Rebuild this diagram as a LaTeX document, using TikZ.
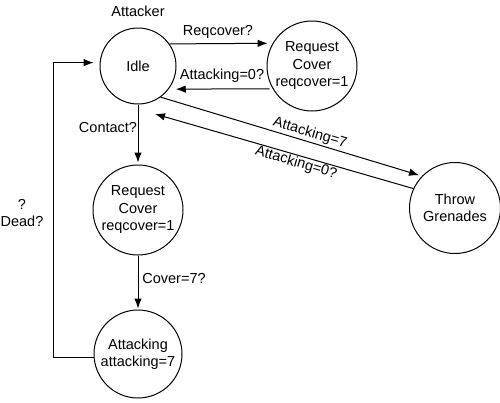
\documentclass[tikz,border=0pt]{standalone}
\usepackage{fontspec}
\setmainfont{Liberation Sans}
\usetikzlibrary{arrows.meta}
\begin{document}
\begin{tikzpicture}[x=1pt,y=-1pt,
  state/.style={circle,draw,line width=1pt,inner sep=0pt,align=center,font=\fontsize{14.5}{17.5}\selectfont},
  lbl/.style={font=\fontsize{14.5}{17.5}\selectfont,inner sep=1pt,align=center},
  conn/.style={line width=1pt,-{Latex[length=10pt,width=7.5pt]}}]
\useasboundingbox (0,0) rectangle (500,402);
\node[state,minimum size=76pt] (idle) at (138,66) {Idle};
\node[state,minimum size=90pt] (rc1) at (312,66) {Request\\Cover\\reqcover=1};
\node[state,minimum size=90pt] (rc2) at (138,210) {Request\\Cover\\reqcover=1};
\node[state,minimum size=88pt] (att) at (138,354) {Attacking\\attacking=7};
\node[state,minimum size=91pt] (thr) at (455,208) {Throw\\Grenades};
\node[lbl] (title) at (138,11) {Attacker};
% top pair
\draw[conn,shorten >=5pt] (idle.35.4) -- (rc1.150.7);
\draw[conn,shorten <=3pt,shorten >=7pt] (rc1.210.7) -- (idle.-37.3);
\node[lbl] (l1) at (218,32) {Reqcover?};
\node[lbl] (l2) at (222,76) {Attacking=0?};
% diagonal pair
\coordinate (t2) at (155,114);
\draw[conn,shorten >=3pt] (idle.-54.3) -- (thr.136.6);
\draw[conn] (thr.155.7) -- (t2);
\node[lbl,rotate=-16.4] (l3) at (310,133) {Attacking=7};
\node[lbl,rotate=-16.4] (l4) at (296,163) {Attacking=0?};
% vertical chain
\draw[conn,shorten >=2pt] (idle.south) -- (rc2.north);
\draw[conn,shorten >=1pt] (rc2.south) -- (att.north);
\node[lbl] (l5) at (108,128) {Contact?};
\node[lbl] (l6) at (174,279) {Cover=7?};
% loop back
\coordinate (lx) at (53,0);
\draw[conn,shorten >=6pt] (att.185) -| (lx |- idle.175.5) -- (idle.175.5);
\node[lbl] (l7) at (22,213) {?\\Dead?};
\end{tikzpicture}
\end{document}
